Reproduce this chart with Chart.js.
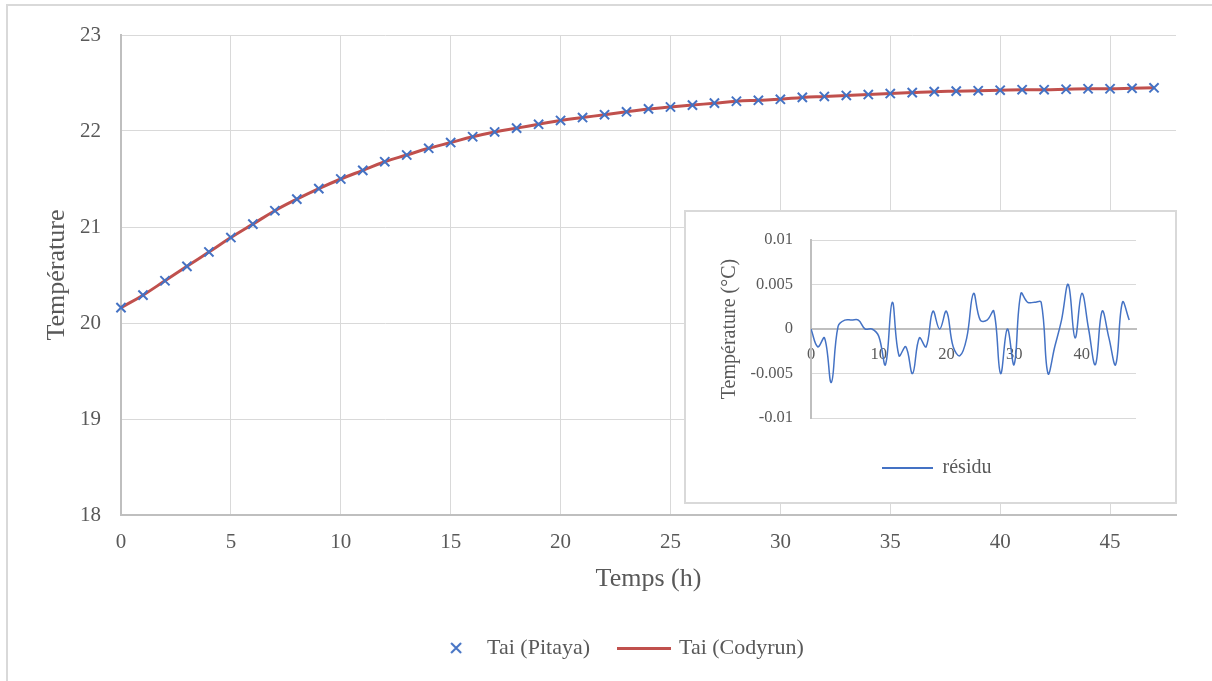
<!DOCTYPE html>
<html lang="fr">
<head>
<meta charset="UTF-8">
<title>Tai Pitaya / Codyrun</title>
<style>
  body { margin: 0; overflow: hidden; background: #fff; }
  #cadre { position: absolute; left: 6px; top: 4px; width: 1400px; height: 800px; border: 2px solid #d9d9d9; }
  #main { position: absolute; left: 0; top: 0; }
  #encart { position: absolute; left: 684px; top: 210px; width: 489px; height: 290px; border: 2px solid #d9d9d9; background: #fff; }
</style>
</head>
<body>
<div id="cadre"></div>
<canvas id="main" width="1212" height="681"></canvas>
<div id="encart"><canvas id="residu" width="489" height="290"></canvas></div>

<script src="https://cdn.jsdelivr.net/npm/chart.js"></script>
<script>
// heures
var heures = [0,1,2,3,4,5,6,7,8,9,10,11,12,13,14,15,16,17,18,19,20,21,22,23,
              24,25,26,27,28,29,30,31,32,33,34,35,36,37,38,39,40,41,42,43,44,45,46,47]

// Tai (Pitaya)
var taiPitaya = [20.16,20.29,20.44,20.59,20.74,20.89,21.03,21.17,21.29,21.40,21.50,21.59,
                 21.68,21.75,21.82,21.88,21.94,21.99,22.03,22.07,22.11,22.14,22.17,22.20,
                 22.23,22.25,22.27,22.29,22.31,22.32,22.33,22.35,22.36,22.37,22.38,22.39,
                 22.40,22.41,22.415,22.42,22.425,22.43,22.43,22.435,22.44,22.44,22.445,22.45]

// Tai (Codyrun)
var taiCodyrun = [20.16,20.29,20.44,20.59,20.74,20.89,21.03,21.17,21.29,21.40,21.50,21.59,
                  21.68,21.75,21.82,21.88,21.94,21.99,22.03,22.07,22.11,22.14,22.17,22.20,
                  22.23,22.25,22.27,22.29,22.31,22.32,22.33,22.35,22.36,22.37,22.38,22.39,
                  22.40,22.41,22.415,22.42,22.425,22.43,22.43,22.435,22.44,22.44,22.445,22.45]

// résidu
var residu = [0,-0.002,-0.001,-0.006,0.0003,0.001,0.001,0.001,0,0,-0.0008,-0.004,
              0.003,-0.003,-0.002,-0.005,-0.001,-0.002,0.002,0,0.002,-0.002,-0.003,-0.001,
              0.004,0.001,0.001,0.002,-0.005,0,-0.004,0.004,0.003,0.003,0.003,-0.005,
              -0.002,0.001,0.005,-0.001,0.004,0,-0.004,0.002,-0.001,-0.004,0.003,0.001]

var xTicksMain = [0,5,10,15,20,25,30,35,40,45]
var xTicksEncart = [0,10,20,30,40]

var police = 'Liberation Serif'
var gris = '#595959'
var bleu = '#4472C4'
var rouge = '#C0504D'

function paires(xs, ys) {
    return xs.map(function (x, i) { return {x: x, y: ys[i]} })
}

// petites images pour la légende
function imgCroix(w, h, cx) {
    var c = document.createElement('canvas')
    c.width = w; c.height = h
    var g = c.getContext('2d')
    g.strokeStyle = bleu; g.lineWidth = 2
    g.beginPath()
    g.moveTo(cx - 5, h / 2 - 5); g.lineTo(cx + 5, h / 2 + 5)
    g.moveTo(cx + 5, h / 2 - 5); g.lineTo(cx - 5, h / 2 + 5)
    g.stroke()
    return c
}
function imgTrait(w, ep, couleur) {
    var c = document.createElement('canvas')
    c.width = w; c.height = ep
    var g = c.getContext('2d')
    g.fillStyle = couleur
    g.fillRect(0, 0, w, ep)
    return c
}

var legendeMain = [imgCroix(54, 14, 31), imgTrait(54, 3, rouge)]

new Chart(document.getElementById('main'), {
    type: 'scatter',
    data: {
        datasets: [{
            label: 'Tai (Pitaya)',
            data: paires(heures, taiPitaya),
            pointStyle: 'crossRot',
            pointRadius: 6.5,
            borderColor: bleu,
            backgroundColor: bleu,
            pointBorderWidth: 2,
            showLine: false,
            clip: false
        }, {
            label: 'Tai (Codyrun)',
            data: paires(heures, taiCodyrun),
            showLine: true,
            borderColor: rouge,
            backgroundColor: rouge,
            borderWidth: 3,
            pointRadius: 0,
            tension: 0.4,
            clip: false
        }]
    },
    options: {
        responsive: false,
        animation: false,
        layout: { padding: { left: 20, right: 0, top: 35, bottom: 12 } },
        plugins: {
            tooltip: { enabled: false },
            legend: {
                position: 'bottom',
                labels: {
                    font: { family: police, size: 22 },
                    color: gris,
                    usePointStyle: true,
                    pointStyleWidth: 48,
                    padding: 30,
                    generateLabels: function (chart) {
                        var items = Chart.defaults.plugins.legend.labels.generateLabels(chart)
                        items.forEach(function (it, i) { it.pointStyle = legendeMain[i] })
                        return items
                    }
                }
            }
        },
        scales: {
            x: {
                type: 'linear',
                min: 0, max: 48,
                afterBuildTicks: function (s) { s.ticks = xTicksMain.map(function (v) { return {value: v} }) },
                afterFit: function (s) { s.height = 92; s.paddingRight = 36 },
                grid: { color: '#D9D9D9', drawTicks: false },
                border: { color: '#BFBFBF', width: 2 },
                ticks: { color: gris, font: { family: police, size: 21 }, padding: 15 },
                title: { display: true, text: 'Temps (h)', color: gris, font: { family: police, size: 26 }, padding: { top: 0, bottom: 12 } }
            },
            y: {
                min: 18, max: 23,
                afterFit: function (s) { s.width = 101 },
                grid: { color: '#D9D9D9', drawTicks: false },
                border: { color: '#BFBFBF', width: 2 },
                ticks: { stepSize: 1, color: gris, font: { family: police, size: 21 }, padding: 20 },
                title: { display: true, text: 'Température', color: gris, font: { family: police, size: 26 }, padding: { top: 22, bottom: 0 } }
            }
        }
    }
})

new Chart(document.getElementById('residu'), {
    type: 'scatter',
    data: {
        datasets: [{
            label: 'résidu',
            data: paires(heures, residu),
            showLine: true,
            borderColor: bleu,
            backgroundColor: bleu,
            borderWidth: 1.5,
            pointRadius: 0,
            tension: 0.4
        }]
    },
    options: {
        responsive: false,
        animation: false,
        layout: { padding: { left: 12, right: 0, top: 28, bottom: 14 } },
        plugins: {
            tooltip: { enabled: false },
            legend: {
                position: 'bottom',
                labels: {
                    font: { family: police, size: 20 },
                    color: gris,
                    usePointStyle: true,
                    pointStyleWidth: 51,
                    padding: 40,
                    generateLabels: function (chart) {
                        var items = Chart.defaults.plugins.legend.labels.generateLabels(chart)
                        items.forEach(function (it) { it.pointStyle = imgTrait(51, 2, bleu) })
                        return items
                    }
                }
            }
        },
        scales: {
            x: {
                type: 'linear',
                position: { y: 0 },
                min: 0, max: 48,
                afterBuildTicks: function (s) { s.ticks = xTicksEncart.map(function (v) { return {value: v} }) },
                afterFit: function (s) { s.height = 0; s.paddingRight = 39 },
                grid: { display: false, drawTicks: false },
                border: { color: '#BFBFBF', width: 2 },
                ticks: { color: gris, font: { family: police, size: 16.5 }, padding: 16 }
            },
            y: {
                min: -0.01, max: 0.01,
                afterFit: function (s) { s.width = 113 },
                grid: { color: '#D9D9D9', drawTicks: false },
                border: { color: '#BFBFBF', width: 2 },
                ticks: {
                    stepSize: 0.005, color: gris, font: { family: police, size: 16.5 }, padding: 18,
                    callback: function (v) { return String(+v.toFixed(3)) }
                },
                title: { display: true, text: 'Température (°C)', color: gris, font: { family: police, size: 20 }, padding: { top: 20, bottom: 0 } }
            }
        }
    }
})
</script>
</body>
</html>
